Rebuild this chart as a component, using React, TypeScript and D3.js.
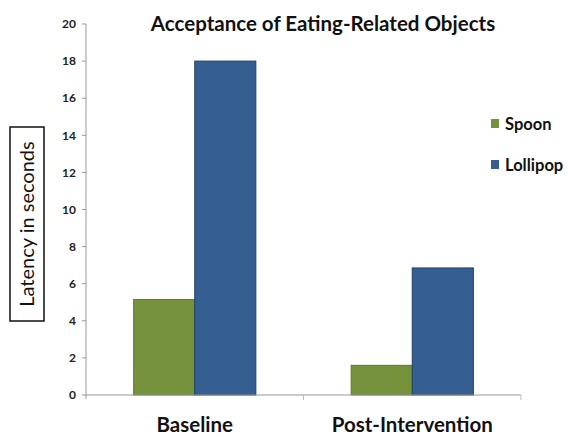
import React from "react";
import * as d3 from "d3";

const categories = ["Baseline", "Post-Intervention"];
const seriesNames = ["Spoon", "Lollipop"];
const spoonValues = [5.15, 1.6];
const lollipopValues = [18, 6.85];
const yTicks = [0, 2, 4, 6, 8, 10, 12, 14, 16, 18, 20];
const colors = ["#76923C", "#355E91"];
const strokes = ["#5f7a2c", "#1f3f6e"];

const W = 568;
const H = 437;
const font = "Lato, 'Open Sans', sans-serif";

export default function App() {
  const x0 = 86, x1 = 521, yBottom = 395, yTop = 24;
  const x = d3.scaleBand().domain(categories).range([x0, x1]).paddingInner(0).paddingOuter(0);
  const xs = d3.scaleBand().domain(seriesNames).range([0, x.bandwidth()]).paddingInner(0).paddingOuter(0.78);
  const y = d3.scaleLinear().domain([0, 20]).range([yBottom, yTop]);
  const seriesValues = [spoonValues, lollipopValues];

  return (
    <svg width={W} height={H} style={{ position: "absolute", left: 0, top: 0, background: "#fff" }}>
      <rect width={W} height={H} fill="#fff" />
      <text x={323} y={31} textAnchor="middle" fontFamily={font} fontWeight="bold" fontSize={20.5} fill="#111">
        Acceptance of Eating-Related Objects
      </text>
      {/* y axis */}
      <line x1={x0} x2={x0} y1={y(20)} y2={y(0) + 4} stroke="#999" />
      {yTicks.map((t) => (
        <g key={t}>
          <line x1={x0 - 4} x2={x0} y1={y(t)} y2={y(t)} stroke="#999" />
          <text x={76} y={y(t)} dy="0.35em" textAnchor="end" fontFamily={font} fontWeight="bold" fontSize={12} fill="#222">
            {t}
          </text>
        </g>
      ))}
      {/* bars */}
      {categories.map((c, ci) =>
        seriesNames.map((s, si) => {
          const v = seriesValues[si][ci];
          const bx = (x(c) ?? 0) + (xs(s) ?? 0);
          return (
            <rect key={c + s} x={bx} y={y(v)} width={xs.bandwidth()} height={y(0) - y(v)} fill={colors[si]} stroke={strokes[si]} strokeWidth={1} />
          );
        })
      )}
      {/* x axis */}
      <line x1={x0} x2={x1} y1={y(0)} y2={y(0)} stroke="#999" />
      {categories.map((c) => (
        <line key={"t" + c} x1={(x(c) ?? 0) + x.bandwidth()} x2={(x(c) ?? 0) + x.bandwidth()} y1={y(0)} y2={y(0) + 5} stroke="#bbb" />
      ))}
      {categories.map((c) => (
        <text key={"l" + c} x={(x(c) ?? 0) + x.bandwidth() / 2} y={432} textAnchor="middle" fontFamily={font} fontWeight="bold" fontSize={20.5} fill="#111">
          {c}
        </text>
      ))}
      {/* legend */}
      {seriesNames.map((s, i) => (
        <g key={"lg" + s} transform={`translate(491, ${119 + i * 41})`}>
          <rect x={0} y={0} width={8} height={9} fill={colors[i]} />
          <text x={14} y={5} dy="0.35em" fontFamily={font} fontWeight="bold" fontSize={16.5} fill="#111">
            {s}
          </text>
        </g>
      ))}
      {/* y axis title */}
      <rect x={10} y={127} width={34} height={194} fill="#fff" stroke="#111" strokeWidth={1.5} />
      <text transform="translate(27, 224) rotate(-90)" textAnchor="middle" dy="0.35em" fontFamily={font} fontSize={20} fill="#111">
        Latency in seconds
      </text>
    </svg>
  );
}
